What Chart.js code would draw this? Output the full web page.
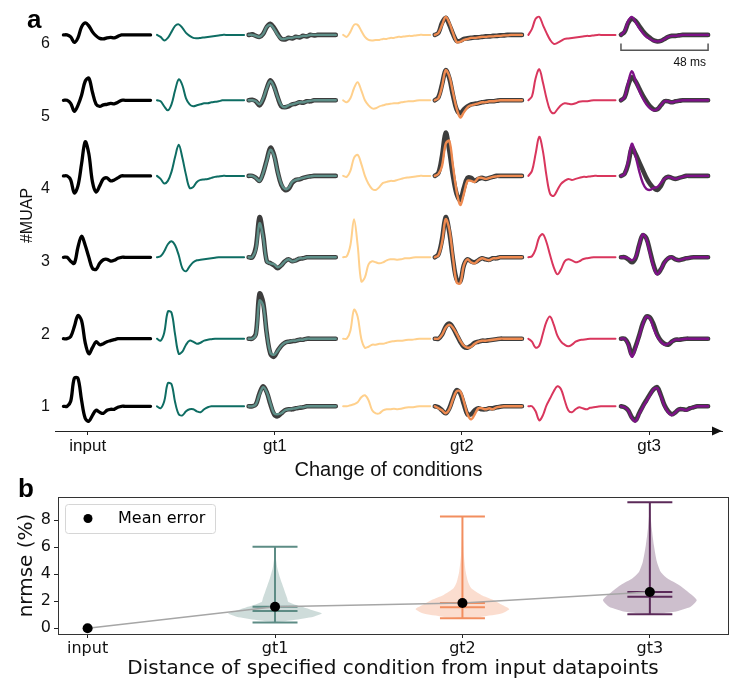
<!DOCTYPE html>
<html>
<head>
<meta charset="utf-8">
<script src="https://cdn.jsdelivr.net/npm/chart.js@4.4.0/dist/chart.umd.min.js"></script>
<style>
  html, body { margin: 0; padding: 0; background: #fff; }
  #fig { position: relative; width: 747px; height: 696px; }
  #fig canvas { position: absolute; left: 0; }
  .panel { position: absolute; font: bold 26px 'Liberation Sans', Arial, sans-serif; line-height: 1; color: #000; }
</style>
</head>
<body>
<div id="fig">
  <canvas id="muap" width="747" height="490" style="top:0"></canvas>
  <canvas id="err" width="747" height="218" style="top:478px"></canvas>
  <div class="panel" style="left:27px;top:6px">a</div>
  <div class="panel" style="left:18px;top:475px">b</div>
</div>
<script>
// ---- panel a: MUAP templates, 25 samples 2 ms apart (48 ms window), amplitude in a.u.
// rows go MUAP 1 .. MUAP 6
var muapRows = [1, 2, 3, 4, 5, 6];
var rowBaseline = [1.01, 1.94, 3.06, 4.18, 5.22, 6.12];
var condLabels = ['input', 'gt1', 'gt2', 'gt3'];
var condTicks = [0, 2, 4, 6];
var colOffset = [-0.26, 0.74, 1.72, 2.73, 3.71, 4.71, 5.70];
var sampleMs = 2;
var windowMs = 48;
var msToUnit = 0.0194;
var ampToUnit = 0.0138;

var inputMuap = [
  [0, 0, 5, 28, 28, 6, -12, -15, -9, -4, -6, -7, -4, -3, -3, -1, 0, 0, 0, 0, 0, 0, 0, 0, 0],
  [0, 0, 2, 12, 23, 18, -4, -15, -9, -3, -6, -5, -3, -2, -1, 0, 0, 0, 0, 0, 0, 0, 0, 0, 0],
  [0, 0, -4, -6, 10, 21, 12, 0, -11, -12, -6, -2.5, -2, -3.7, -3, -1, 0, 0, 0, 0, 0, 0, 0, 0, 0],
  [0, 0, -4, -17, -10, 12, 34, 22, -6, -16, -10, -3, -2, -5, -4, -2, 0, 0, 0, 0, 0, 0, 0, 0, 0],
  [0, 0, -3, -11, -5, 5, 19, 22, 8, -4, -6, -4.5, -4, -3, -3.5, -2, 0, 0, 0, 0, 0, 0, 0, 0, 0],
  [0, 0, -2, -7.5, -3, 8, 12, 9, 3, -1, -3.5, -4, -3, -2.5, -3, -1.5, 0, 0, 0, 0, 0, 0, 0, 0, 0]
];
var step1Muap = [
  [0, -2, 5, 23, 22, 4, -8, -9, -5, -3, -3, -5, -6, -3, -1, 0, 0, 0, 0, 0, 0, 0, 0, 0, 0],
  [0, -2, 6, 27, 26, 4, -15, -13, -6, -2, -3, -5, -4, -2, -1, -0.5, 0, 0, 0, 0, 0, 0, 0, 0, 0],
  [0, 1, 6, 13, 16, 12, 2, -11, -14, -9, -5, -3, -2.5, -2, -1.5, -1, -0.5, 0, 0, 0, 0, 0, 0, 0, 0],
  [0, -3, -7.5, -5, 4, 19, 31, 18, 1, -12, -11, -6, -4, -3.5, -3, -2, -1, -0.5, 0, 0, 0, 0, 0, 0, 0],
  [0, -1, -6, -10, -4, 10, 21, 15, 2, -4, -6, -5, -4, -3, -3, -2, -1.5, -1, 0, 0, 0, 0, 0, 0, 0],
  [0, -2, -5.5, -3, 3, 9, 10.5, 7, 2, -1, -3, -3.3, -3, -2.5, -2, -1.5, -1, -0.5, 0, 0, 0, 0, 0, 0, 0]
];
var gt1Muap = [
  [0, 0, 2, 12, 19, 14, 3, -7, -8, -7, -4, -3, -2.5, -2, -1, -1, 0, 0, 0, 0, 0, 0, 0, 0, 0],
  [0, 0, 4, 38, 33, 5, -14, -16, -12, -7, -4, -3, -2, -2, -1, -1, 0, 0, 0, 0, 0, 0, 0, 0, 0],
  [0, 0, 8, 34, 20, -4, -6, -7, -10, -8, -4, -2, -4, -3, -1, -1, 0, 0, 0, 0, 0, 0, 0, 0, 0],
  [0, 0, -2, -5, 3, 15, 26, 20, 4, -8, -13, -12, -6, -4, -3, -2, -1, -0.5, 0, 0, 0, 0, 0, 0, 0],
  [0, 0, -1, -4, 2, 12, 19, 13, 3, -5, -7, -5, -4, -3, -2, -2, -1, -0.5, 0, 0, 0, 0, 0, 0, 0],
  [0, 0, -1, -2, 1, 8, 10, 6, 0, -4, -4, -3, -3, -2, -2, -1, -1, 0, 0, 0, 0, 0, 0, 0, 0]
];
var gt1Real = [
  [0, 0, 2, 13, 20, 14, 2, -8, -10, -7, -4, -3, -3, -2, -1.5, -1, 0, 0, 0, 0, 0, 0, 0, 0, 0],
  [0, 0, 5, 45, 36, 5, -15, -18, -12, -7, -4, -3, -2.5, -2, -1, -1, 0, 0, 0, 0, 0, 0, 0, 0, 0],
  [0, 0, 10, 40, 22, -4, -6, -8, -11, -8, -4, -2, -4, -3, -1.5, -1, 0, 0, 0, 0, 0, 0, 0, 0, 0],
  [0, 0, -2, -5, 3, 16, 28, 21, 4, -9, -14, -13, -7, -4, -3.5, -2, -1, -0.5, 0, 0, 0, 0, 0, 0, 0],
  [0, 0.5, -1, -5, 1, 12, 20, 14, 3, -6, -7, -6, -4, -3.5, -2, -2.5, -1, -1, 0, 0, 0, 0, 0, 0, 0],
  [0, 0.5, -1, -2, 1, 8, 11, 7, 1, -4, -4.5, -3, -3.5, -2, -2.5, -1, -1.5, 0, -0.5, 0, 0, 0, 0, 0, 0]
];
var step2Muap = [
  [0, 0, 1, 2, 4, 9, 11, 6, -4, -7, -7, -4, -3, -3, -2.5, -3, -2.5, -1.5, -1, -1, -0.5, 0, 0, 0, 0],
  [0, 0, 8, 29, 22, 0, -9, -8, -6, -6, -5, -5, -4, -3, -2.5, -2, -2, -1.5, -1, -1, -0.5, 0, 0, 0, 0],
  [0, 1, 12, 38, 12, -24, -20, -7, -4, -5, -6, -5, -3, -2, -2, -2.5, -2, -1, -1, -0.5, 0, 0, 0, 0, 0],
  [0, -1, 5, 18, 21, 12, 0, -8, -13, -14, -11, -7, -6, -5, -5, -4, -3, -2, -1.5, -1, -0.5, 0, 0, 0, 0],
  [0, -2, 2, 12, 18, 10, 0, -5, -8, -8, -6, -5, -4, -3.5, -3, -3, -2, -1.5, -1, -1, -0.5, 0, 0, 0, 0],
  [0, -2, 3, 10, 10, 4, -2, -5, -5.5, -5, -5, -4, -4, -3, -3, -2, -2, -1.5, -1, -1, -0.5, 0, 0, 0, 0]
];
var gt2Muap = [
  [0, -2, -4, -7, -3, 7, 15, 15, 5, -8, -13, -8, -2, -2, -3, -2, -3, -1, -0.5, 0, 0, 0, 0, 0, 0],
  [0, 0, 4, 11, 14, 11, 5, -2, -7, -9, -8, -5, -3, -2, -2, -1.5, -1, -0.5, 0, 0, 0, 0, 0, 0, 0],
  [0, 2, 15, 38, 28, 0, -25, -26, -8, -2, -5, -6, -3, -1, -2, -3, -1, -1, 0, 0, 0, 0, 0, 0, 0],
  [0, 2, 10, 32, 35, 10, -15, -29, -18, -5, -5, -6, -2, -2, -3, -2, -1, -0.5, 0, 0, 0, 0, 0, 0, 0],
  [0, 2, 14, 30, 24, 8, -8, -17, -12, -7, -5, -4, -3, -2, -2, -1, -1, -0.5, 0, 0, 0, 0, 0, 0, 0],
  [0, 2, 10, 18, 12, 2, -7, -7, -5, -4, -3, -3, -2.5, -2, -2, -1.5, -1.5, -1, -1, -0.5, -0.5, 0, 0, 0, 0]
];
var gt2Real = [
  [0, -1, -4, -7, -2, 8, 16, 13, 2, -8, -8, -4, -2, -3, -3, -2, -2, -1, -0.5, 0, 0, 0, 0, 0, 0],
  [0, 0, 4, 12, 15, 11, 4, -3, -8, -9, -7, -4, -3, -2, -2, -1.5, -1, -0.5, 0, 0, 0, 0, 0, 0, 0],
  [0, 3, 18, 40, 25, -2, -22, -24, -8, -2, -4, -5, -3, -1, -2, -2.5, -1, -1, 0, 0, 0, 0, 0, 0, 0],
  [0, 3, 20, 43, 25, 0, -18, -24, -12, -2, -2, -5, -3, -2, -3, -2, -1, 0, 0, 0, 0, 0, 0, 0, 0],
  [0, 3, 16, 30, 22, 5, -9, -13, -9, -6, -4, -3.5, -3, -2, -1.5, -1, -1, -0.5, 0, 0, 0, 0, 0, 0, 0],
  [0, 2, 12, 17, 10, 1, -6, -6, -4, -3.5, -3, -2.5, -2.5, -2, -1.5, -1.5, -1, -1, -0.5, -0.5, 0, 0, 0, 0, 0]
];
var step3Muap = [
  [0, 0, -5, -14, -9, 1, 8, 15, 20, 17, 6, -4, -6, -3, -1, -2, -3, -1.5, -1, -0.5, 0, 0, 0, 0, 0],
  [0, -3, -9, -7, 5, 17, 22, 14, 3, -3, -6, -7.5, -6, -3, -1.5, -1, -0.5, 0, 0, 0, 0, 0, 0, 0, 0],
  [0, 1, 8, 20, 23, 15, 2, -10, -17, -12, -4, -2, -3, -5, -4, -2, -1, -0.5, 0, 0, 0, 0, 0, 0, 0],
  [0, 5, 22, 39, 25, 0, -18, -20, -14, -8, -5, -3, -4, -3, -2, -1, -1, -0.5, 0, 0, 0, 0, 0, 0, 0],
  [0, 4, 22, 31, 18, 2, -10, -13, -9, -5, -3, -3.5, -4, -3, -1.5, -1, -1, -0.5, 0, 0, 0, 0, 0, 0, 0],
  [0, 6, 16, 18, 10, 2, -5, -9, -8, -6, -4, -3.5, -3, -2.5, -2, -1.5, -1, -1, -0.5, 0, 0, 0, 0, 0, 0]
];
var gt3Muap = [
  [0, -1, -4, -12, -15, -8, -1, 5, 11, 17, 18, 10, 0, -6, -9, -6, -3, -3, -4, -2, -1, 0, 0, 0, 0],
  [0, 0, -6, -18, -10, 2, 14, 22, 20, 10, 2, -3, -6, -5, -3, -1, -1, -0.5, 0, 0, 0, 0, 0, 0, 0],
  [0, 0, -1, -3, 0, 12, 23, 18, 4, -10, -17, -12, -5, -1, 0, -2, -3, -2, -1, -0.5, 0, 0, 0, 0, 0],
  [0, 2, 15, 32, 20, 5, -7, -13, -14, -12, -11, -7, -3, -1, -2, -3, -2, -1, 0, 0, 0, 0, 0, 0, 0],
  [0, 3, 18, 29, 20, 10, 2, -4, -8, -10, -9, -5, -1, -1, -2, -1, -0.5, 0, 0, 0, 0, 0, 0, 0, 0],
  [0, 4, 14, 18, 13, 7, 2, -2, -4, -6, -6.5, -6, -4, -2, -1, -1, -0.5, 0, 0, 0, 0, 0, 0, 0, 0]
];
var gt3Real = [
  [0, -1, -4, -11, -14, -7, 0, 6, 12, 17, 19, 11, 1, -5, -8, -6, -3, -3, -3.5, -2, -1, 0, 0, 0, 0],
  [0, 0, -5, -16, -8, 3, 15, 22, 21, 14, 4, -2, -5, -6, -3, -1, -1, -0.5, 0, 0, 0, 0, 0, 0, 0],
  [0, 0, -2, -5, -1, 12, 22, 19, 6, -8, -16, -12, -5, -1, 0, -2, -3, -2, -1, -0.5, 0, 0, 0, 0, 0],
  [0, 2, 12, 28, 22, 14, 6, -2, -8, -12, -14, -10, -3, -1, -2, -3, -2, -1, 0, 0, 0, 0, 0, 0, 0],
  [0, 3, 15, 23, 19, 12, 5, -1, -6, -9, -9, -5, -1, -1, -2, -1, -0.5, 0, 0, 0, 0, 0, 0, 0, 0],
  [0, 3, 12, 16, 14, 9, 4, 0, -3, -5.5, -6.5, -6, -4, -2, -1, -1, -0.5, 0, 0, 0, 0, 0, 0, 0, 0]
];

// ---- panel b: nrmse per condition
var errCond = ['input', 'gt1', 'gt2', 'gt3'];
var meanError = [0, 1.6, 1.87, 2.69];
var violinPos = [1, 2, 3];
var violinMin = [0.44, 0.74, 1.04];
var violinMax = [6.04, 8.27, 9.33];
var violinMedian = [1.28, 1.56, 2.34];
var violinMean = [1.6, 1.87, 2.69];
var gt1KdeVal = [0.44, 0.61, 0.86, 1.11, 1.36, 1.6, 1.73, 1.97, 2.22, 2.71, 3.2, 3.7, 4.44, 5.0, 5.5, 6.04];
var gt1KdeDen = [0, 0.4, 0.82, 1.0, 0.78, 0.58, 0.45, 0.28, 0.26, 0.21, 0.16, 0.11, 0.05, 0.025, 0.01, 0];
var gt2KdeVal = [0.74, 0.86, 1.11, 1.43, 1.73, 2.1, 2.47, 2.96, 3.45, 4.19, 5.43, 6.5, 7.5, 8.27];
var gt2KdeDen = [0, 0.42, 0.85, 1.0, 0.85, 0.66, 0.4, 0.19, 0.12, 0.07, 0.03, 0.015, 0.005, 0];
var gt3KdeVal = [1.04, 1.23, 1.6, 2.1, 2.71, 3.21, 3.7, 4.19, 4.93, 6.17, 7.41, 8.4, 9.33];
var gt3KdeDen = [0, 0.53, 0.87, 1.0, 0.81, 0.62, 0.37, 0.23, 0.15, 0.085, 0.04, 0.015, 0];
var yTicksErr = [0, 2, 4, 6, 8];

var FONT_A = "'Liberation Sans', Arial, sans-serif";
var FONT_B = "'DejaVu Sans', sans-serif";
var GRAY = 'rgba(45,45,45,0.92)';

var columns = [
  { waves: inputMuap, color: '#000000', width: 3.3 },
  { waves: step1Muap, color: '#0e6d63', width: 2 },
  { waves: gt1Muap, color: '#5e8f88', width: 2.4, real: gt1Real },
  { waves: step2Muap, color: '#ffd08c', width: 2 },
  { waves: gt2Muap, color: '#ee8a50', width: 2.4, real: gt2Real },
  { waves: step3Muap, color: '#d9365d', width: 2 },
  { waves: gt3Muap, color: '#7d1287', width: 2.4, real: gt3Real }
];

function waveData(col, row, amps) {
  return amps.map(function (a, i) {
    return { x: colOffset[col] + i * sampleMs * msToUnit, y: rowBaseline[row] + a * ampToUnit };
  });
}

function lineSet(data, color, width, order) {
  return {
    data: data, showLine: true, borderColor: color, borderWidth: width,
    pointRadius: 0, pointHoverRadius: 0, fill: false, order: order,
    tension: 0.35, borderCapStyle: 'round', borderJoinStyle: 'round'
  };
}

var muapSets = [];
columns.forEach(function (c, ci) {
  c.waves.forEach(function (w, ri) {
    if (c.real) muapSets.push(lineSet(waveData(ci, ri, c.real[ri]), GRAY, 4.6, 2));
    muapSets.push(lineSet(waveData(ci, ri, w), c.color, c.width, 1));
  });
});

// chart.js reserves room for edge tick labels; the area here is fixed by hand
function noScalePad(s) {
  s.paddingTop = 0; s.paddingBottom = 0; s.paddingLeft = 0; s.paddingRight = 0;
}

var axisArrow = {
  id: 'axisArrow',
  afterDraw: function (chart) {
    var a = chart.chartArea, ctx = chart.ctx;
    ctx.save();
    ctx.fillStyle = '#111';
    ctx.beginPath();
    ctx.moveTo(a.right, a.bottom);
    ctx.lineTo(a.right - 10, a.bottom - 4.5);
    ctx.lineTo(a.right - 10, a.bottom + 4.5);
    ctx.closePath();
    ctx.fill();
    ctx.restore();
  }
};

var scaleBarY = 5.91, scaleBarTop = 6.0;
var scaleBar = {
  id: 'scaleBar',
  afterDraw: function (chart) {
    var xs = chart.scales.x, ys = chart.scales.y, ctx = chart.ctx;
    var x0 = xs.getPixelForValue(colOffset[6]);
    var x1 = xs.getPixelForValue(colOffset[6] + windowMs * msToUnit);
    var y = ys.getPixelForValue(scaleBarY), yt = ys.getPixelForValue(scaleBarTop);
    ctx.save();
    ctx.strokeStyle = '#555';
    ctx.lineWidth = 1.5;
    ctx.beginPath();
    ctx.moveTo(x0, yt); ctx.lineTo(x0, y); ctx.lineTo(x1, y); ctx.lineTo(x1, yt);
    ctx.stroke();
    ctx.fillStyle = '#111';
    ctx.font = '12px ' + FONT_A;
    ctx.textAlign = 'right';
    ctx.textBaseline = 'middle';
    ctx.fillText(windowMs + ' ms', x1 - 2, y + 13);
    ctx.restore();
  }
};

new Chart(document.getElementById('muap'), {
  type: 'scatter',
  data: { datasets: muapSets },
  options: {
    responsive: false, animation: false, clip: false,
    layout: { padding: { left: 0, right: 25, top: 0, bottom: 0 } },
    plugins: { legend: { display: false }, tooltip: { enabled: false } },
    scales: {
      x: {
        type: 'linear', min: -0.35, max: 6.78,
        afterFit: function (s) { s.height = 59; noScalePad(s); },
        afterBuildTicks: function (s) { s.ticks = condTicks.map(function (v) { return { value: v }; }); },
        ticks: {
          callback: function (v) { var k = condTicks.indexOf(v); return k < 0 ? '' : condLabels[k]; },
          font: { family: FONT_A, size: 17 }, color: '#111', padding: 1, maxRotation: 0, autoSkip: false
        },
        grid: { drawOnChartArea: false, drawTicks: true, tickLength: 4, color: '#222' },
        border: { display: true, color: '#222', width: 1 },
        title: { display: true, text: 'Change of conditions', font: { family: FONT_A, size: 20 }, color: '#111', padding: { top: 0, bottom: 8 } }
      },
      y: {
        type: 'linear', min: 0.67, max: 6.6,
        afterFit: function (s) { s.width = 55; noScalePad(s); },
        afterBuildTicks: function (s) { s.ticks = muapRows.map(function (v) { return { value: v }; }); },
        ticks: { font: { family: FONT_A, size: 16 }, color: '#111', padding: 5 },
        grid: { display: false, drawTicks: false, tickLength: 0 },
        border: { display: false },
        title: { display: true, text: '#MUAP', font: { family: FONT_A, size: 16 }, color: '#111', padding: { top: 18, bottom: 0 } }
      }
    }
  },
  plugins: [axisArrow, scaleBar]
});

// ---- panel b
var violinColor = ['#5d8c85', '#f28e5f', '#5b2a59'];
var violinFill = ['rgba(93,140,133,0.3)', 'rgba(242,142,95,0.3)', 'rgba(91,42,89,0.3)'];
var kdeVal = [gt1KdeVal, gt2KdeVal, gt3KdeVal];
var kdeDen = [gt1KdeDen, gt2KdeDen, gt3KdeDen];
var violinHalf = 0.25, capHalf = 0.12;

var errSets = [];
violinPos.forEach(function (p, k) {
  var shape = [];
  kdeVal[k].forEach(function (v, i) { shape.push({ x: p + kdeDen[k][i] * violinHalf, y: v }); });
  for (var i = kdeVal[k].length - 1; i >= 0; i--) shape.push({ x: p - kdeDen[k][i] * violinHalf, y: kdeVal[k][i] });
  errSets.push({
    data: shape, showLine: true, fill: 'shape', backgroundColor: violinFill[k],
    borderWidth: 0, borderColor: 'rgba(0,0,0,0)', pointRadius: 0, tension: 0.2, order: 3
  });
  errSets.push({
    data: [{ x: p, y: violinMin[k] }, { x: p, y: violinMax[k] }],
    showLine: true, borderColor: violinColor[k], borderWidth: 2, pointRadius: 0, order: 2
  });
  [violinMin[k], violinMax[k], violinMedian[k], violinMean[k]].forEach(function (v) {
    errSets.push({
      data: [{ x: p - capHalf, y: v }, { x: p + capHalf, y: v }],
      showLine: true, borderColor: violinColor[k], borderWidth: 2, pointRadius: 0, order: 2
    });
  });
});
errSets.push({
  label: 'Mean error',
  data: meanError.map(function (v, i) { return { x: i, y: v }; }),
  showLine: true, borderColor: '#a6a6a6', borderWidth: 1.5, tension: 0,
  pointRadius: 5, pointBackgroundColor: '#000', pointBorderColor: '#000', pointBorderWidth: 0, order: 0
});

var frame = {
  id: 'frame',
  beforeDatasetsDraw: function (chart) {
    var a = chart.chartArea, ctx = chart.ctx;
    ctx.save();
    ctx.strokeStyle = '#333';
    ctx.lineWidth = 1;
    ctx.strokeRect(Math.round(a.left) + 0.5, Math.round(a.top) + 0.5, Math.round(a.right - a.left), Math.round(a.bottom - a.top));
    ctx.restore();
  }
};

var meanLegend = {
  id: 'meanLegend',
  afterDraw: function (chart) {
    var a = chart.chartArea, ctx = chart.ctx;
    var x = a.left + 7, y = a.top + 7, w = 150, h = 29;
    ctx.save();
    ctx.fillStyle = 'rgba(255,255,255,0.8)';
    ctx.strokeStyle = '#d6d6d6';
    ctx.lineWidth = 1;
    ctx.beginPath();
    if (ctx.roundRect) ctx.roundRect(x + 0.5, y + 0.5, w, h, 3); else ctx.rect(x + 0.5, y + 0.5, w, h);
    ctx.fill();
    ctx.stroke();
    ctx.fillStyle = '#000';
    ctx.beginPath();
    ctx.arc(x + 23, y + 14.5, 4.5, 0, Math.PI * 2);
    ctx.fill();
    ctx.font = '16px ' + FONT_B;
    ctx.textBaseline = 'middle';
    ctx.fillText('Mean error', x + 53, y + 15);
    ctx.restore();
  }
};

new Chart(document.getElementById('err'), {
  type: 'scatter',
  data: { datasets: errSets },
  options: {
    responsive: false, animation: false,
    layout: { padding: { left: 0, right: 19, top: 19, bottom: 0 } },
    plugins: { legend: { display: false }, tooltip: { enabled: false } },
    scales: {
      x: {
        type: 'linear', min: -0.158, max: 3.417,
        afterFit: function (s) { s.height = 62; noScalePad(s); },
        afterBuildTicks: function (s) { s.ticks = errCond.map(function (c, i) { return { value: i }; }); },
        ticks: {
          callback: function (v) { return errCond[v] || ''; },
          font: { family: FONT_B, size: 16 }, color: '#111', padding: 1, maxRotation: 0, autoSkip: false
        },
        grid: { drawOnChartArea: false, drawTicks: true, tickLength: 4, color: '#222' },
        border: { display: false },
        title: { display: true, text: 'Distance of specified condition from input datapoints', font: { family: FONT_B, size: 20 }, color: '#111', padding: { top: 0, bottom: 15 } }
      },
      y: {
        type: 'linear', min: -0.42, max: 9.72,
        afterFit: function (s) { s.width = 58; noScalePad(s); },
        afterBuildTicks: function (s) { s.ticks = yTicksErr.map(function (v) { return { value: v }; }); },
        ticks: { font: { family: FONT_B, size: 16 }, color: '#111', padding: 3 },
        grid: { drawOnChartArea: false, drawTicks: true, tickLength: 4, color: '#222' },
        border: { display: false },
        title: { display: true, text: 'nrmse (%)', font: { family: FONT_B, size: 20 }, color: '#111', padding: { top: 15, bottom: 0 } }
      }
    }
  },
  plugins: [frame, meanLegend]
});
</script>
</body>
</html>
